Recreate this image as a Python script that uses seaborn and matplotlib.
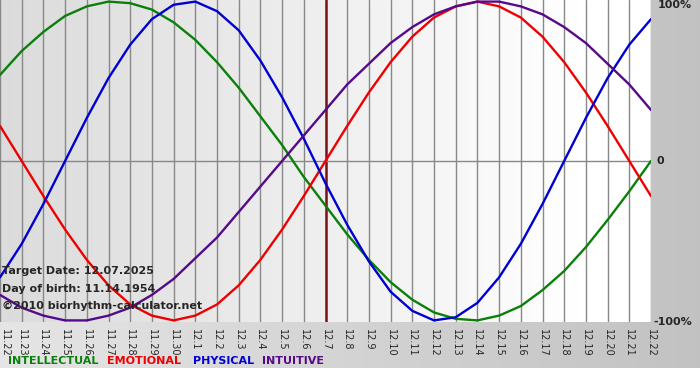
import numpy as np
import pandas as pd
import matplotlib
matplotlib.use("Agg")
import matplotlib.pyplot as plt
import seaborn as sns

# days shown (11.22 .. 12.22), target date is 12.7
days = ["11.22", "11.23", "11.24", "11.25", "11.26", "11.27", "11.28", "11.29", "11.30",
        "12.1", "12.2", "12.3", "12.4", "12.5", "12.6", "12.7", "12.8", "12.9", "12.10",
        "12.11", "12.12", "12.13", "12.14", "12.15", "12.16", "12.17", "12.18", "12.19",
        "12.20", "12.21", "12.22"]
target_day = "12.7"

intellectual = [0.54, 0.69, 0.81, 0.91, 0.97, 1.00, 0.99, 0.95, 0.87, 0.76, 0.62, 0.46, 0.28,
                0.10, -0.10, -0.28, -0.46, -0.62, -0.76, -0.87, -0.95, -0.99, -1.00, -0.97,
                -0.91, -0.81, -0.69, -0.54, -0.37, -0.19, 0.00]
emotional = [0.22, 0.00, -0.22, -0.43, -0.62, -0.78, -0.90, -0.97, -1.00, -0.97, -0.90, -0.78,
             -0.62, -0.43, -0.22, 0.00, 0.22, 0.43, 0.62, 0.78, 0.90, 0.97, 1.00, 0.97, 0.90,
             0.78, 0.62, 0.43, 0.22, 0.00, -0.22]
physical = [-0.73, -0.52, -0.27, 0.00, 0.27, 0.52, 0.73, 0.89, 0.98, 1.00, 0.94, 0.82, 0.63,
            0.40, 0.14, -0.14, -0.40, -0.63, -0.82, -0.94, -1.00, -0.98, -0.89, -0.73, -0.52,
            -0.27, 0.00, 0.27, 0.52, 0.73, 0.89]
intuitive = [-0.84, -0.92, -0.97, -1.00, -1.00, -0.97, -0.92, -0.84, -0.74, -0.61, -0.48, -0.32,
             -0.16, 0.00, 0.16, 0.32, 0.48, 0.61, 0.74, 0.84, 0.92, 0.97, 1.00, 1.00, 0.97,
             0.92, 0.84, 0.74, 0.61, 0.48, 0.32]

series_names = ["INTELLECTUAL", "EMOTIONAL", "PHYSICAL", "INTUITIVE"]
colors = {"INTELLECTUAL": "#0a800a", "EMOTIONAL": "#ee0000",
          "PHYSICAL": "#0000d0", "INTUITIVE": "#550a8a"}

rows = []
for name, vals in zip(series_names, [intellectual, emotional, physical, intuitive]):
    for i, v in enumerate(vals):
        rows.append({"day": i, "value": v, "cycle": name})
df = pd.DataFrame(rows)

sns.set_style("white")
plt.rcParams["font.family"] = ["DejaVu Sans"]

W, H = 700, 380
fig = plt.figure(figsize=(W / 100, H / 100), dpi=100)

# --- fondo general en degradado ---
bg_ax = fig.add_axes([0, 0, 1, 1], zorder=0)
xx = np.linspace(0, 1, W)
bg = np.tile(0.90 - 0.14 * xx, (H, 1))
bg[368:, :] = 1.0
bg_ax.imshow(np.dstack([bg] * 3), aspect="auto", extent=[0, W, H, 0])
bg_ax.set_axis_off()

# --- area del grafico ---
ax = fig.add_axes([0, 1 - 322 / H, 651 / W, 322 / H], zorder=1)
n = len(days)
grad = np.clip(0.86 + 0.14 * np.linspace(0, 1.12, 300), 0, 1)
ax.imshow(np.dstack([np.tile(grad, (10, 1))] * 3), aspect="auto",
          extent=[0, n - 1, -1.01, 1.01], zorder=0)

for i, d in enumerate(days):
    if d == target_day:
        ax.axvline(i, color="#7a1010", lw=1.8, zorder=1)
    else:
        ax.axvline(i, color="#888888", lw=1.0, zorder=1)
ax.axhline(0, color="#888888", lw=1.0, zorder=1)

sns.lineplot(data=df, x="day", y="value", hue="cycle", palette=colors,
             hue_order=series_names, lw=1.7, legend=False, ax=ax, zorder=3)
for ln in ax.get_lines():
    ln.set_solid_joinstyle("round")

ax.set_xlim(0, n - 1)
ax.set_ylim(-1.01, 1.01)
ax.set_xticks(range(n))
ax.set_xticklabels(days, rotation=270, fontsize=7)
ax.tick_params(axis="x", length=4, color="#888888", pad=1)
# la primera etiqueta queda pegada al borde izquierdo
ax.get_xticklabels()[0].set_horizontalalignment("left")
ax.set_yticks([])
ax.set_xlabel("")
ax.set_ylabel("")
for s in ax.spines.values():
    s.set_visible(False)

# etiquetas del eje derecho
ax.text(1.01, 1.0, "100%", transform=ax.transAxes, va="top", ha="left",
        fontsize=8, fontweight="bold")
ax.text(1.008, 0.5, "0", transform=ax.transAxes, va="center", ha="left",
        fontsize=8, fontweight="bold")
ax.text(1.003, 0.0, "-100%", transform=ax.transAxes, va="center", ha="left",
        fontsize=8, fontweight="bold")

# textos informativos
info = ["Target Date: 12.07.2025", "Day of birth: 11.14.1954", "\u00a92010 biorhythm-calculator.net"]
for k, t in enumerate(info):
    fig.text(2 / W, 1 - (271 + 17.5 * k) / H, t, fontsize=8, fontweight="bold",
             va="center", ha="left", zorder=5)

# leyenda inferior
legend_x = [8, 107, 193, 262]
for name, x0 in zip(series_names, legend_x):
    fig.text(x0 / W, 1 - 361 / H, name, color=colors[name], fontsize=8,
             fontweight="bold", va="center", ha="left")

fig.savefig("out.png", dpi=100)
